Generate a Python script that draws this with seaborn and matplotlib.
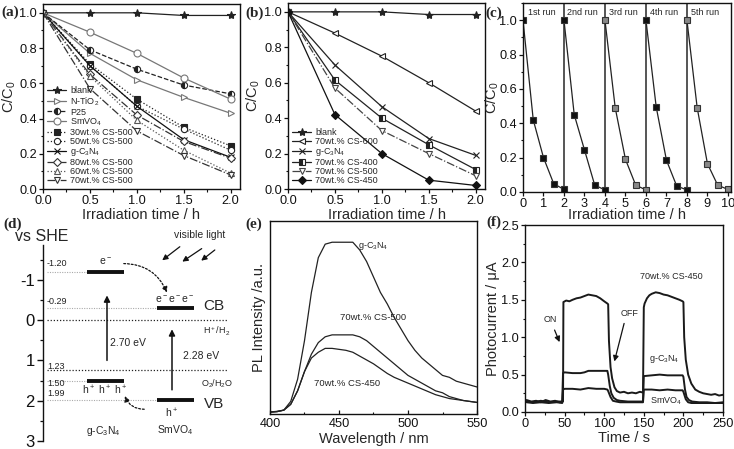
import matplotlib
matplotlib.use('Agg')
import matplotlib.pyplot as plt
import seaborn as sns
import numpy as np
import pandas as pd
from matplotlib.ticker import MultipleLocator, NullFormatter, NullLocator

sns.set_style('ticks')
plt.rcParams['font.family'] = ['Liberation Sans', 'DejaVu Sans']
plt.rcParams['mathtext.default'] = 'regular'
plt.rcParams['axes.unicode_minus'] = False
plt.rcParams['axes.linewidth'] = 1.0
plt.rcParams['axes.edgecolor'] = '#111111'
plt.rcParams['xtick.color'] = '#111111'
plt.rcParams['ytick.color'] = '#111111'

# ---------------- data ----------------
time_a = [0.0, 0.5, 1.0, 1.5, 2.0]
blank_a = [1.0, 1.0, 1.0, 0.985, 0.985]
ntio2_a = [1.0, 0.77, 0.62, 0.52, 0.43]
p25_a = [1.0, 0.79, 0.68, 0.59, 0.54]
smvo4_a = [1.0, 0.89, 0.77, 0.63, 0.51]
cs30_a = [1.0, 0.71, 0.51, 0.35, 0.245]
cs50_a = [1.0, 0.70, 0.47, 0.34, 0.22]
gcn_a = [1.0, 0.70, 0.47, 0.28, 0.18]
cs80_a = [1.0, 0.65, 0.42, 0.27, 0.175]
cs60_a = [1.0, 0.64, 0.39, 0.22, 0.09]
cs70_a = [1.0, 0.57, 0.33, 0.19, 0.08]
labels_a = ['blank', 'N-TiO$_2$', 'P25', 'SmVO$_4$', '30wt.% CS-500', '50wt.% CS-500',
            'g-C$_3$N$_4$', '80wt.% CS-500', '60wt.% CS-500', '70wt.% CS-500']

time_b = [0.0, 0.5, 1.0, 1.5, 2.0]
blank_b = [1.0, 1.0, 1.0, 0.985, 0.985]
cs600_b = [1.0, 0.88, 0.75, 0.60, 0.44]
gcn_b = [1.0, 0.70, 0.465, 0.285, 0.19]
cs400_b = [1.0, 0.615, 0.40, 0.25, 0.11]
cs500_b = [1.0, 0.57, 0.33, 0.20, 0.075]
cs450_b = [1.0, 0.42, 0.20, 0.05, 0.02]
labels_b = ['blank', '70wt.% CS-600', 'g-C$_3$N$_4$', '70wt.% CS-400', '70wt.% CS-500', '70wt.% CS-450']

hours_c = [[0, 0.5, 1, 1.5, 2], [2, 2.5, 3, 3.5, 4], [4, 4.5, 5, 5.5, 6],
           [6, 6.5, 7, 7.5, 8], [8, 8.5, 9, 9.5, 10]]
run1 = [1.0, 0.42, 0.20, 0.048, 0.015]
run2 = [1.0, 0.45, 0.245, 0.04, 0.012]
run3 = [1.0, 0.49, 0.19, 0.04, 0.012]
run4 = [1.0, 0.495, 0.185, 0.035, 0.012]
run5 = [1.0, 0.49, 0.165, 0.04, 0.015]
run_labels = ['1st run', '2nd run', '3rd run', '4th run', '5th run']
run_bounds = [2, 4, 6, 8]

level_vals = [-1.20, -0.29, 1.50, 1.99]
level_labels = ['-1.20', '-0.29', '1.50', '1.99']
redox_vals = [0.0, 1.23]
redox_labels = ['H$^+$/H$_2$', 'O$_2$/H$_2$O']
gap_labels = ['2.70 eV', '2.28 eV']
material_labels = ['g-C$_3$N$_4$', 'SmVO$_4$']

wl_e = [400, 405, 410, 415, 420, 425, 430, 435, 440, 445, 450, 455, 460, 465, 470, 475,
        480, 485, 490, 495, 500, 505, 510, 515, 520, 525, 530, 535, 540, 545, 550]
pl_gcn = [0.01, 0.014, 0.02, 0.065, 0.18, 0.38, 0.63, 0.81, 0.88, 0.89, 0.89, 0.89, 0.89, 0.85,
          0.79, 0.71, 0.63, 0.57, 0.50, 0.44, 0.38, 0.33, 0.29, 0.26, 0.23, 0.20, 0.19, 0.17,
          0.16, 0.15, 0.14]
pl_cs500 = [0.01, 0.012, 0.02, 0.05, 0.12, 0.22, 0.31, 0.37, 0.40, 0.41, 0.41, 0.41, 0.41, 0.40,
            0.38, 0.35, 0.32, 0.29, 0.26, 0.23, 0.20, 0.18, 0.16, 0.14, 0.12, 0.11, 0.09, 0.08,
            0.07, 0.065, 0.06]
pl_cs450 = [0.01, 0.012, 0.02, 0.05, 0.12, 0.22, 0.29, 0.32, 0.34, 0.34, 0.335, 0.33, 0.32, 0.30,
            0.28, 0.26, 0.235, 0.21, 0.19, 0.175, 0.16, 0.145, 0.13, 0.115, 0.10, 0.09, 0.08,
            0.075, 0.07, 0.065, 0.06]

t_cs450 = [2, 8, 14, 20, 26, 32, 38, 44, 48, 48.5, 52, 56, 60, 65, 70, 75, 80, 85, 90, 95, 100, 104,
           105, 106, 108, 110, 113, 116, 120, 125, 130, 135, 140, 145, 149,
           150, 151, 154, 157, 160, 165, 170, 175, 180, 185, 190, 195, 199,
           200, 201, 203, 206, 210, 215, 220, 225, 230, 235, 240, 245, 250]
i_cs450 = [0.16, 0.14, 0.15, 0.13, 0.16, 0.14, 0.15, 0.13, 0.14, 1.47, 1.49, 1.48, 1.50, 1.52, 1.53,
           1.55, 1.57, 1.56, 1.55, 1.52, 1.48, 1.45,
           1.44, 0.95, 0.6, 0.45, 0.33, 0.28, 0.26, 0.27, 0.25, 0.26, 0.25, 0.27, 0.26,
           1.40, 1.45, 1.52, 1.56, 1.58, 1.60, 1.59, 1.57, 1.56, 1.54, 1.52, 1.50, 1.48,
           1.47, 1.0, 0.7, 0.5, 0.38, 0.3, 0.27, 0.25, 0.24, 0.23, 0.24, 0.22, 0.23]
t_gcn = [2, 10, 20, 30, 40, 47, 48, 50, 60, 70, 75, 80, 90, 100, 104, 105, 107, 109, 112, 116, 120,
         130, 140, 149, 150, 160, 170, 180, 190, 199, 200, 202, 204, 207, 211, 220, 230, 240, 250]
i_gcn = [0.14, 0.13, 0.15, 0.13, 0.14, 0.14, 0.52, 0.53, 0.52, 0.52, 0.53, 0.55, 0.55, 0.55, 0.55,
         0.50, 0.35, 0.25, 0.19, 0.16, 0.15, 0.14, 0.14, 0.14, 0.48, 0.49, 0.50, 0.49, 0.49, 0.49,
         0.47, 0.3, 0.2, 0.16, 0.14, 0.13, 0.13, 0.12, 0.13]
t_smv = [2, 10, 20, 30, 40, 47, 48, 50, 60, 70, 80, 90, 100, 104, 105, 108, 111, 115, 120, 130, 140,
         149, 150, 160, 170, 180, 190, 199, 200, 203, 206, 210, 220, 230, 240, 250]
i_smv = [0.13, 0.12, 0.13, 0.12, 0.13, 0.12, 0.30, 0.31, 0.31, 0.30, 0.32, 0.31, 0.31, 0.30, 0.28,
         0.2, 0.15, 0.14, 0.13, 0.13, 0.13, 0.13, 0.30, 0.30, 0.29, 0.30, 0.29, 0.29, 0.27, 0.17,
         0.13, 0.12, 0.12, 0.12, 0.12, 0.12]

# ---------------- figure ----------------
W, H = 734, 449
fig = plt.figure(figsize=(W / 100, H / 100), dpi=100)


def add_ax(l, t, r, b):
    return fig.add_axes([l / W, 1 - b / H, (r - l) / W, (b - t) / H])


def px_text(x, y, s, **kw):
    fig.text(x / W, 1 - y / H, s, **kw)


TICK = 9.2
LAB = 10.5
LEG = 6.5


def style_axis(ax):
    ax.tick_params(which='major', direction='out', length=3, width=0.9, labelsize=TICK, pad=1.2)
    ax.tick_params(which='minor', direction='out', length=1.8, width=0.8)
    for s in ax.spines.values():
        s.set_linewidth(1.0)


def line(ax, x, y, label=None, **kw):
    c = kw.pop('color', '#111111')
    kw.setdefault('mec', c)
    kw.setdefault('mew', 0.8)
    sns.lineplot(x=x, y=y, ax=ax, color=c, label=label, lw=0.9, estimator=None, sort=False, **kw)


LEGKW = dict(loc='lower left', frameon=False, fontsize=LEG, handlelength=2.2, labelspacing=0.0,
             borderaxespad=0.2, borderpad=0.2, handletextpad=0.4, handleheight=0.9)

# ----- (a) -----
ax = add_ax(43, 4, 240, 189)
styles_a = [
    dict(color='#222222', linestyle='-', marker='*', ms=6, mfc='#222222'),
    dict(color='#777777', linestyle='-', marker='>', ms=4.5, mfc='white'),
    dict(color='#222222', linestyle='--', marker='o', ms=4.5, fillstyle='left', mfc='#222222', mfcalt='white'),
    dict(color='#777777', linestyle='-', marker='o', ms=5, mfc='white'),
    dict(color='#222222', linestyle=':', marker='s', ms=4.3, mfc='#222222'),
    dict(color='#222222', linestyle=':', marker='o', ms=4.5, mfc='white'),
    dict(color='#111111', linestyle='-', marker='x', ms=5),
    dict(color='#333333', linestyle='-.', marker='D', ms=3.8, mfc='white'),
    dict(color='#555555', linestyle=':', marker='^', ms=4.5, mfc='white'),
    dict(color='#333333', linestyle='-.', marker='v', ms=4.5, mfc='white'),
]
vals_a = [blank_a, ntio2_a, p25_a, smvo4_a, cs30_a, cs50_a, gcn_a, cs80_a, cs60_a, cs70_a]
for lab, v, st in zip(labels_a, vals_a, styles_a):
    line(ax, time_a, v, label=lab, **st)
ax.set_xlim(0, 2.1)
ax.set_ylim(0, 1.05)
ax.xaxis.set_major_locator(MultipleLocator(0.5))
ax.xaxis.set_minor_locator(MultipleLocator(0.25))
ax.yaxis.set_major_locator(MultipleLocator(0.2))
ax.yaxis.set_minor_locator(MultipleLocator(0.1))
ax.xaxis.set_major_formatter(matplotlib.ticker.FormatStrFormatter('%.1f'))
ax.yaxis.set_major_formatter(matplotlib.ticker.FormatStrFormatter('%.1f'))
style_axis(ax)
ax.set_xlabel('Irradiation time / h', fontsize=LAB, labelpad=1)
ax.set_ylabel('C/C$_0$', fontsize=LAB, labelpad=1)
ax.legend(**LEGKW)

# ----- (b) -----
ax = add_ax(288, 3, 485, 189)
styles_b = [
    dict(color='#222222', linestyle='-', marker='*', ms=6, mfc='#222222'),
    dict(color='#222222', linestyle='-', marker='<', ms=4.5, mfc='white'),
    dict(color='#222222', linestyle='-', marker='x', ms=5),
    dict(color='#222222', linestyle='-', marker='s', ms=4.3, fillstyle='left', mfc='#222222', mfcalt='white'),
    dict(color='#444444', linestyle='-.', marker='v', ms=4.5, mfc='white'),
    dict(color='#111111', linestyle='-', marker='D', ms=4, mfc='#111111'),
]
vals_b = [blank_b, cs600_b, gcn_b, cs400_b, cs500_b, cs450_b]
for lab, v, st in zip(labels_b, vals_b, styles_b):
    line(ax, time_b, v, label=lab, **st)
ax.set_xlim(0, 2.1)
ax.set_ylim(0, 1.05)
ax.xaxis.set_major_locator(MultipleLocator(0.5))
ax.xaxis.set_minor_locator(MultipleLocator(0.25))
ax.yaxis.set_major_locator(MultipleLocator(0.2))
ax.yaxis.set_minor_locator(MultipleLocator(0.1))
ax.xaxis.set_major_formatter(matplotlib.ticker.FormatStrFormatter('%.1f'))
ax.yaxis.set_major_formatter(matplotlib.ticker.FormatStrFormatter('%.1f'))
style_axis(ax)
ax.set_xlabel('Irradiation time / h', fontsize=LAB, labelpad=1)
ax.set_ylabel('C/C$_0$', fontsize=LAB, labelpad=2)
ax.legend(**LEGKW)

# ----- (c) -----
ax = add_ax(523, 3, 731, 192)
runs = [run1, run2, run3, run4, run5]
run_face = ['#111111', '#111111', '#888888', '#111111', '#888888']
for b in run_bounds:
    ax.axvline(b, color='#555555', lw=1.4)
for hrs, r, fc in zip(hours_c, runs, run_face):
    line(ax, hrs, r, color='#222222', linestyle='-', marker='s', ms=4.3, mfc=fc, mec='#333333')
for hrs, lab in zip(hours_c, run_labels):
    ax.text(hrs[2] - 0.1, 1.045, lab, fontsize=6.5, ha='center', va='center')
ax.set_xlim(0, 10.15)
ax.set_ylim(0, 1.1)
ax.xaxis.set_major_locator(MultipleLocator(1))
ax.yaxis.set_major_locator(MultipleLocator(0.2))
ax.yaxis.set_minor_locator(MultipleLocator(0.1))
ax.yaxis.set_major_formatter(matplotlib.ticker.FormatStrFormatter('%.1f'))
style_axis(ax)
ax.set_xlabel('Irradiation time / h', fontsize=LAB, labelpad=-1)
ax.set_ylabel('C/C$_0$', fontsize=LAB, labelpad=-1)

# ----- (d) -----
ax = add_ax(43, 225, 240, 441)
ax.set_xlim(43, 240)
ax.set_ylim(3.0, -2.357)
for s in ['top', 'right', 'bottom']:
    ax.spines[s].set_visible(False)
ax.spines['left'].set_bounds(3.0, -1.87)
ax.xaxis.set_major_locator(NullLocator())
ax.yaxis.set_major_locator(matplotlib.ticker.FixedLocator([-1, 0, 1, 2, 3]))
ax.yaxis.set_minor_locator(matplotlib.ticker.FixedLocator([-1.5, -0.5, 0.5, 1.5, 2.5]))
ax.tick_params(which='major', direction='out', length=4, width=1, labelsize=12, pad=2)
ax.tick_params(which='minor', direction='out', length=2.5, width=0.9)
ax.patch.set_alpha(0)
bar_x = [(87, 124), (157, 194), (87, 124), (157, 194)]
for (x0, x1), v, lab in zip(bar_x, level_vals, level_labels):
    ax.hlines(v, 47, x0, colors='#aaaaaa', linestyles=(0, (1, 1.2)), lw=0.8)
    ax.hlines(v, x0, x1, colors='#111111', lw=2.8)
label_dy = [-0.21, -0.17, 0.07, -0.17]
for v, lab, dy in zip(level_vals, level_labels, label_dy):
    ax.text(47, v + dy, lab, fontsize=6.5, ha='left', va='center', color='#222222')
for v, lab in zip(redox_vals, redox_labels):
    ax.hlines(v, 47, 227, colors='#222222', linestyles=(0, (1, 1.5)), lw=0.9)
ax.text(47, 1.27, '1.23', fontsize=6.5, ha='left', va='bottom', color='#222222')
ax.text(217, 0.27, redox_labels[0], fontsize=6.5, ha='center', va='center')
ax.text(217, 1.57, redox_labels[1], fontsize=6.5, ha='center', va='center')
ax.text(106, -1.46, 'e$^-$', fontsize=7.5, ha='center', va='center')
ax.text(175, -0.5, 'e$^-$e$^-$e$^-$', fontsize=7.5, ha='center', va='center')
ax.text(105, 1.74, 'h$^+$ h$^+$ h$^+$', fontsize=7.5, ha='center', va='center')
ax.text(172, 2.32, 'h$^+$', fontsize=7.5, ha='center', va='center')
ax.text(214, -0.36, 'CB', fontsize=11, ha='center', va='center')
ax.text(214, 2.08, 'VB', fontsize=11, ha='center', va='center')
ax.annotate('', xy=(107, -0.68), xytext=(107, 1.07),
            arrowprops=dict(arrowstyle='-|>', color='#111111', lw=1.1, mutation_scale=9))
ax.annotate('', xy=(172, 0.16), xytext=(172, 1.80),
            arrowprops=dict(arrowstyle='-|>', color='#111111', lw=1.1, mutation_scale=9))
ax.text(110, 0.58, gap_labels[0], fontsize=7.5, ha='left', va='center')
ax.text(183, 0.88, gap_labels[1], fontsize=7.5, ha='left', va='center')
ax.text(103, 2.74, material_labels[0], fontsize=7.5, ha='center', va='center')
ax.text(175, 2.74, material_labels[1], fontsize=7.5, ha='center', va='center')
ax.annotate('', xy=(168, -0.62), xytext=(121, -1.40),
            arrowprops=dict(arrowstyle='-|>', color='#111111', lw=0.9, ls=(0, (1.5, 1.5)),
                            mutation_scale=8, connectionstyle='arc3,rad=-0.35'))
ax.annotate('', xy=(124, 1.82), xytext=(147, 2.21),
            arrowprops=dict(arrowstyle='-|>', color='#111111', lw=0.9, ls=(0, (1.5, 1.5)),
                            mutation_scale=8, connectionstyle='arc3,rad=-0.4'))
for (x0, y0, x1, y1) in [(182, -1.86, 160, -1.44), (204, -1.81, 180, -1.41), (217, -1.78, 199, -1.43)]:
    ax.annotate('', xy=(x1, y1), xytext=(x0, y0),
                arrowprops=dict(arrowstyle='-|>', color='#111111', lw=0.9, mutation_scale=8))
px_text(200, 235, 'visible light', fontsize=7.5, ha='center', va='center')
px_text(42, 237, 'vs SHE', fontsize=11.5, ha='center', va='center')

# ----- (e) -----
ax = add_ax(270, 221, 477, 414)
for v in [pl_gcn, pl_cs500, pl_cs450]:
    line(ax, wl_e, v, color='#222222', linestyle='-')
ax.set_xlim(400, 550)
ax.set_ylim(0, 1.0)
ax.xaxis.set_major_locator(MultipleLocator(50))
ax.xaxis.set_minor_locator(MultipleLocator(25))
ax.yaxis.set_major_locator(NullLocator())
style_axis(ax)
ax.tick_params(axis='x', which='both', direction='in')
ax.tick_params(axis='x', which='major', pad=3)
ax.set_xlabel('Wavelength / nm', fontsize=LAB, labelpad=1)
ax.set_ylabel('PL Intensity /a.u.', fontsize=LAB, labelpad=3)
ax.text(475, 0.87, 'g-C$_3$N$_4$', fontsize=6.5, ha='center', va='center')
ax.text(475, 0.50, '70wt.% CS-500', fontsize=6.8, ha='center', va='center')
ax.text(456, 0.16, '70wt.% CS-450', fontsize=6.8, ha='center', va='center')

# ----- (f) -----
ax = add_ax(525, 225, 723, 412)
for t, v in [(t_cs450, i_cs450), (t_gcn, i_gcn), (t_smv, i_smv)]:
    line(ax, t, v, color='#1a1a1a', linestyle='-')
for l in ax.get_lines():
    l.set_linewidth(1.4)
ax.set_xlim(0, 250)
ax.set_ylim(0, 2.5)
ax.xaxis.set_major_locator(MultipleLocator(50))
ax.xaxis.set_minor_locator(MultipleLocator(25))
ax.yaxis.set_major_locator(MultipleLocator(0.5))
ax.yaxis.set_minor_locator(MultipleLocator(0.25))
ax.yaxis.set_major_formatter(matplotlib.ticker.FormatStrFormatter('%.1f'))
style_axis(ax)
ax.set_xlabel('Time / s', fontsize=LAB, labelpad=1)
ax.set_ylabel('Photocurrent / \u03bcA', fontsize=LAB, labelpad=1)
ax.text(185, 1.81, '70wt.% CS-450', fontsize=6.5, ha='center', va='center')
ax.text(176, 0.71, 'g-C$_3$N$_4$', fontsize=6.5, ha='center', va='center')
ax.text(178, 0.14, 'SmVO$_4$', fontsize=6.5, ha='center', va='center')
ax.text(32, 1.23, 'ON', fontsize=6.5, ha='center', va='center')
ax.text(132, 1.32, 'OFF', fontsize=6.5, ha='center', va='center')
ax.annotate('', xy=(45, 0.9), xytext=(36, 1.13),
            arrowprops=dict(arrowstyle='-|>', color='#111111', lw=0.9, mutation_scale=8))
ax.annotate('', xy=(112, 0.64), xytext=(126, 1.22),
            arrowprops=dict(arrowstyle='-|>', color='#111111', lw=0.9, mutation_scale=8))

# ----- panel labels -----
for x, y, s in [(10, 12, '(a)'), (255, 13, '(b)'), (494, 13, '(c)'),
                (13, 224, '(d)'), (254, 224, '(e)'), (494, 222, '(f)')]:
    px_text(x, y, s, fontsize=11, fontweight='bold', family='Liberation Serif',
            ha='center', va='center')

fig.savefig('out.png', dpi=100)
